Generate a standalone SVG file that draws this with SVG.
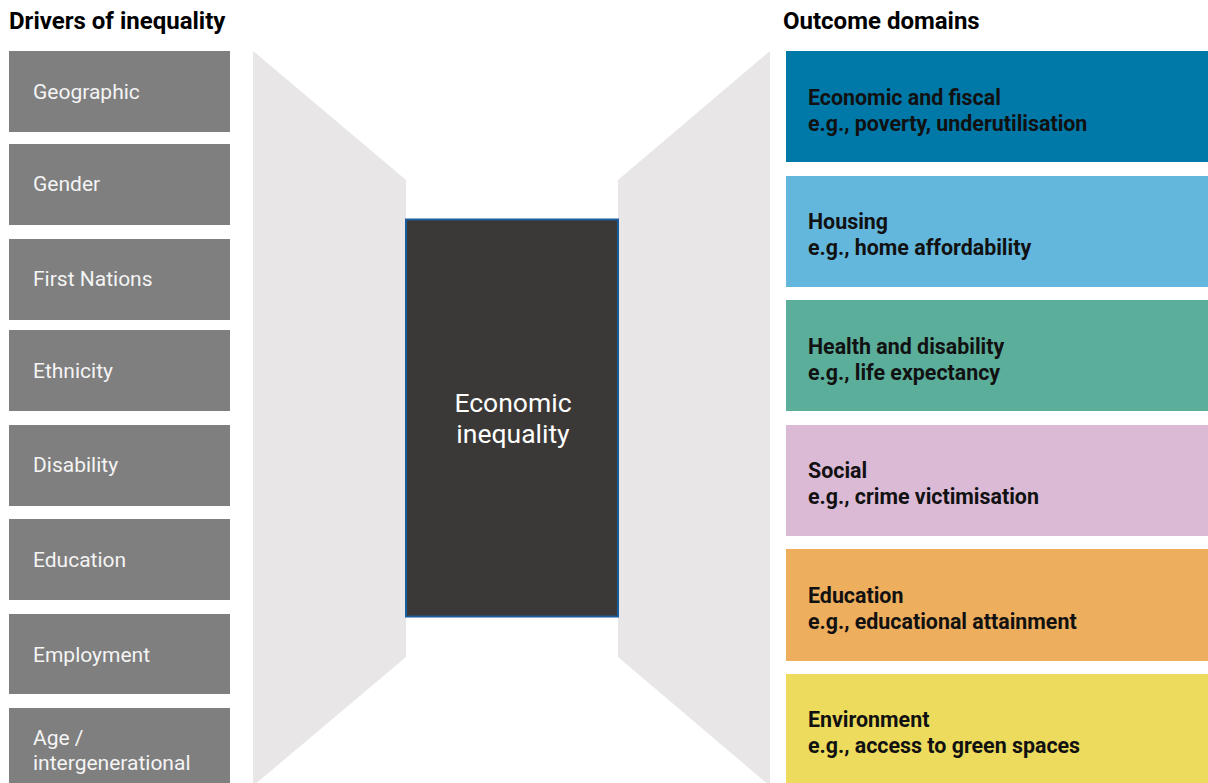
<svg xmlns="http://www.w3.org/2000/svg" width="1208" height="783" viewBox="0 0 1208 783">
<style>
.hdr{font-family:Roboto,"Liberation Sans",sans-serif;font-weight:bold;font-size:24px;fill:#000}
.drv rect{fill:#7f7f7f}
.drv text{font-family:Roboto,"Liberation Sans",sans-serif;font-size:21px;fill:#f4f4f4}
.out text{font-family:Roboto,"Liberation Sans",sans-serif;font-weight:bold;font-size:21.4px;fill:#111}
.fun{fill:#e8e6e7}
</style>
<rect width="1208" height="783" fill="#fff"/>
<text class="hdr" x="9" y="29">Drivers of inequality</text>
<text class="hdr" x="783" y="29">Outcome domains</text>
<g id="connectors">
<polygon class="fun" points="253,51 406,180 406,657 253,786"/>
<polygon class="fun" points="770,51 618,180 618,657 770,786"/>
</g>
<g id="d-geographic" class="drv"><rect x="9" y="51" width="221" height="81"/><text x="33" y="99">Geographic</text></g>
<g id="d-gender" class="drv"><rect x="9" y="144" width="221" height="81"/><text x="33" y="191">Gender</text></g>
<g id="d-firstnations" class="drv"><rect x="9" y="239" width="221" height="81"/><text x="33" y="286">First Nations</text></g>
<g id="d-ethnicity" class="drv"><rect x="9" y="330" width="221" height="81"/><text x="33" y="378">Ethnicity</text></g>
<g id="d-disability" class="drv"><rect x="9" y="425" width="221" height="81"/><text x="33" y="472">Disability</text></g>
<g id="d-education" class="drv"><rect x="9" y="519" width="221" height="81"/><text x="33" y="567">Education</text></g>
<g id="d-employment" class="drv"><rect x="9" y="614" width="221" height="80"/><text x="33" y="662">Employment</text></g>
<g id="d-age" class="drv"><rect x="9" y="708" width="221" height="75"/><text x="33" y="745">Age /</text><text x="33" y="770">intergenerational</text></g>
<g id="center">
<rect x="406" y="219.5" width="212" height="397" fill="#3a3937" stroke="#1b5c9c" stroke-width="2"/>
<text x="513" y="412" text-anchor="middle" font-family="Roboto,'Liberation Sans',sans-serif" font-size="26.5" fill="#fff">Economic</text>
<text x="513" y="443" text-anchor="middle" font-family="Roboto,'Liberation Sans',sans-serif" font-size="26.5" fill="#fff">inequality</text>
</g>
<g id="o-economic" class="out"><rect x="786" y="51" width="422" height="111" fill="#0078a8"/><text x="808" y="105">Economic and fiscal</text><text x="808" y="131">e.g., poverty, underutilisation</text></g>
<g id="o-housing" class="out"><rect x="786" y="176" width="422" height="111" fill="#64b7dc"/><text x="808" y="229">Housing</text><text x="808" y="255">e.g., home affordability</text></g>
<g id="o-health" class="out"><rect x="786" y="300" width="422" height="111" fill="#5bae9a"/><text x="808" y="354">Health and disability</text><text x="808" y="380">e.g., life expectancy</text></g>
<g id="o-social" class="out"><rect x="786" y="425" width="422" height="111" fill="#dbbad6"/><text x="808" y="478">Social</text><text x="808" y="504">e.g., crime victimisation</text></g>
<g id="o-education" class="out"><rect x="786" y="549" width="422" height="112" fill="#edae5e"/><text x="808" y="603">Education</text><text x="808" y="629">e.g., educational attainment</text></g>
<g id="o-environment" class="out"><rect x="786" y="674" width="422" height="109" fill="#ecdb5c"/><text x="808" y="727">Environment</text><text x="808" y="753">e.g., access to green spaces</text></g>
</svg>
